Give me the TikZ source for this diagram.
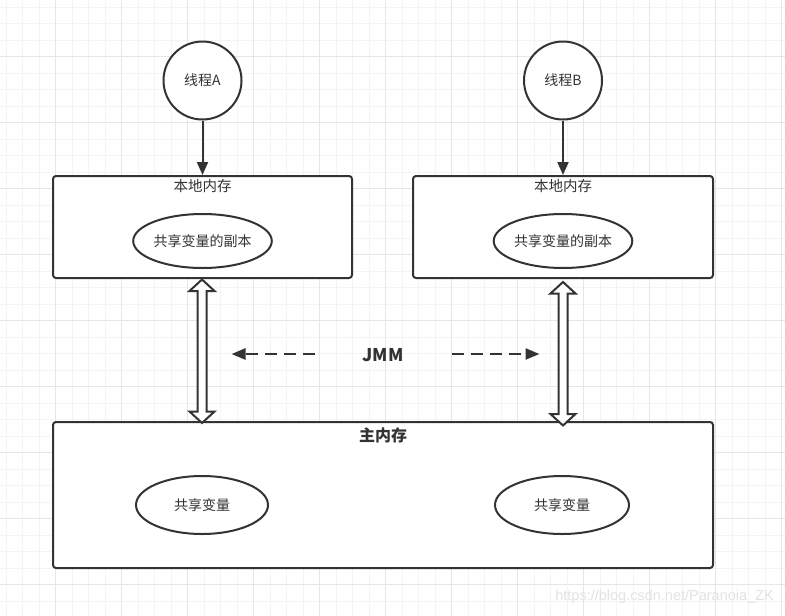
\documentclass[tikz,border=0pt]{standalone}
\usepackage{fontspec}
\setmainfont{Noto Sans CJK SC}
\newfontfamily\wmfont{Liberation Sans}
\usetikzlibrary{arrows.meta,calc,shapes.geometric}
\definecolor{ink}{HTML}{333333}
\definecolor{gridminor}{HTML}{F4F4F4}
\definecolor{gridmajor}{HTML}{E6E6E6}
\definecolor{wm}{HTML}{E2E2E2}
\tikzset{
  circ/.style={circle, draw=ink, line width=2pt, fill=white, minimum size=78pt, inner sep=0pt, text=ink, font=\fontsize{14}{16}\selectfont},
  membox/.style={rectangle, rounded corners=3pt, draw=ink, line width=2pt, fill=white, inner sep=0pt},
  ell/.style={ellipse, draw=ink, line width=2pt, fill=white, inner sep=0pt, text=ink, font=\fontsize{14}{16}\selectfont},
  lbl/.style={text=ink, inner sep=0pt, font=\fontsize{14.5}{16}\selectfont},
  boldlbl/.style={text=ink, inner sep=0pt, font=\bfseries\fontsize{16}{18}\selectfont},
  flow/.style={draw=ink, line width=2pt, -{Triangle[width=11pt,length=13pt]}},
  dashflow/.style={draw=ink, line width=2.5pt, dash pattern=on 12pt off 7pt, -{Triangle[width=11pt,length=14pt]}},
  hollow/.style={draw=ink, line width=2pt, fill=white, line join=miter},
}
\begin{document}
\begin{tikzpicture}[x=1pt,y=-1pt]
\useasboundingbox (0,0) rectangle (785,616);
\fill[white] (0,0) rectangle (785,616);
% grid
\foreach \i in {0,...,47} {\draw[gridminor, line width=1pt] ({6+16.5*\i},0) -- ({6+16.5*\i},616);}
\foreach \j in {0,...,37} {\draw[gridminor, line width=1pt] (0,{7.3+16.5*\j}) -- (785,{7.3+16.5*\j});}
\foreach \i in {3,7,...,47} {\draw[gridmajor, line width=1pt] ({6+16.5*\i},0) -- ({6+16.5*\i},616);}
\foreach \j in {3,7,...,35} {\draw[gridmajor, line width=1pt] (0,{7.3+16.5*\j}) -- (785,{7.3+16.5*\j});}

% threads
\node[circ] (ta) at (202.5,80.5) {线程A};
\node[circ] (tb) at (563,80.5) {线程B};

% local memories
\node[membox, minimum width=299pt, minimum height=102pt] (la) at (202.5,227) {};
\node[lbl] (lat) at (202.5,186) {本地内存};
\node[ell, minimum width=134pt, minimum height=54pt] (ca) at (202.5,241) {共享变量的副本};

\node[membox, minimum width=300pt, minimum height=102pt] (lb) at (563,227) {};
\node[lbl] (lbt) at (563,186) {本地内存};
\node[ell, minimum width=134pt, minimum height=54pt] (cb) at (563,241) {共享变量的副本};

% main memory
\node[membox, minimum width=660pt, minimum height=146pt] (mm) at (383,495) {};
\node[boldlbl] (mmt) at (383,435.5) {主内存};
\node[ell, minimum width=132pt, minimum height=58pt] (va) at (202,505) {共享变量};
\node[ell, minimum width=134pt, minimum height=58pt] (vb) at (562,505) {共享变量};

% JMM
\node[text=ink, inner sep=0pt, font=\bfseries\fontsize{17.5}{19}\selectfont] (jmm) at (383,355) {JMM};
\coordinate (jl1) at (315,354);
\coordinate (jl2) at (231.5,354);
\coordinate (jr1) at (451.5,354);
\coordinate (jr2) at (539.5,354);
\draw[dashflow] (jl1) -- (jl2);
\draw[dashflow] (jr1) -- (jr2);

% thread -> local arrows
\draw[flow] (ta.south) -- (ta.south |- la.north);
\draw[flow] (tb.south) -- (tb.south |- lb.north);

% hollow double arrows
\coordinate (at) at (202,279.5);
\coordinate (ab) at (202,423);
\draw[hollow] (at) -- ++(12.5,11.5) -- ++(-8,0) -- ($(ab)+(4.5,-11.5)$) -- ++(8,0) -- (ab)
  -- ++(-12.5,-11.5) -- ++(8,0) -- ($(at)+(-4.5,11.5)$) -- ++(-8,0) -- cycle;
\coordinate (bt) at (563,282);
\coordinate (bb) at (563,425.5);
\draw[hollow] (bt) -- ++(12.5,11.5) -- ++(-8,0) -- ($(bb)+(4.5,-11.5)$) -- ++(8,0) -- (bb)
  -- ++(-12.5,-11.5) -- ++(8,0) -- ($(bt)+(-4.5,11.5)$) -- ++(-8,0) -- cycle;

% watermark
\node[text=wm, inner sep=0pt, anchor=east, font=\wmfont\fontsize{14.5}{16}\selectfont] (wmk) at (774,597) {https://blog.csdn.net/Paranoia\_ZK};
\end{tikzpicture}
\end{document}
